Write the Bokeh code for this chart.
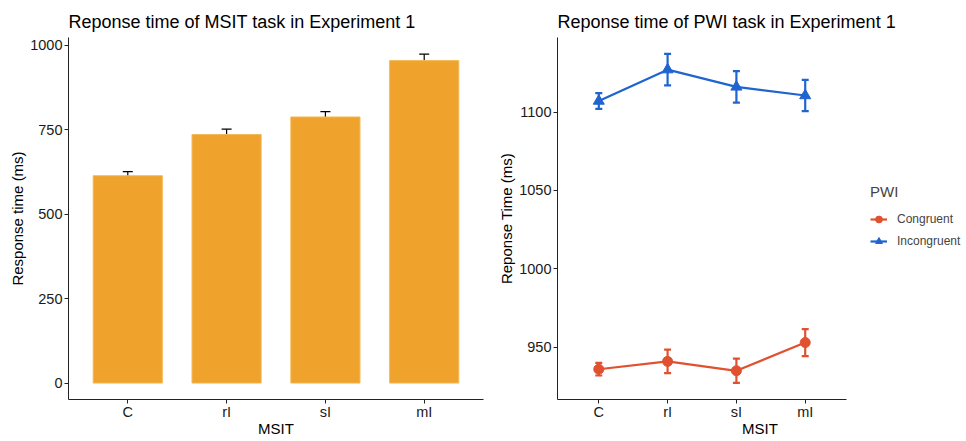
from bokeh.plotting import figure
from bokeh.layouts import row
from bokeh.models import (ColumnDataSource, Whisker, TeeHead, Legend, LegendItem,
                          FixedTicker, Range1d)
from bokeh.embed import file_html
from bokeh.resources import INLINE

# ---------------- data ----------------
categories = ["C", "rI", "sI", "mI"]

msit_rt = [614, 736, 788, 955]
msit_se = [12, 16, 16, 19]

pwi_congruent = [936, 941, 935, 953]
pwi_congruent_se = [4, 7.5, 7.7, 8.6]
pwi_incongruent = [1107, 1127, 1116, 1110.5]
pwi_incongruent_se = [5, 10, 10, 10]

left_ticks = [0, 250, 500, 750, 1000]
right_ticks = [950, 1000, 1050, 1100]

FONT = "Liberation Sans"
ORANGE = "#EFA32D"
RED = "#E05130"
BLUE = "#1F64CF"
TICK_COL = "#1a1a1a"

xs = list(range(1, len(categories) + 1))
overrides = {x: c for x, c in zip(xs, categories)}


def style(p, ticks, ylabel):
    p.xgrid.visible = False
    p.ygrid.visible = False
    p.outline_line_color = None
    p.background_fill_color = "white"
    p.border_fill_color = "white"
    p.title.text_font = FONT
    p.title.text_font_size = "18px"
    p.title.text_font_style = "normal"
    p.title.text_color = "black"
    p.title.align = "left"
    p.title.standoff = 12
    for ax in (p.xaxis[0], p.yaxis[0]):
        ax.axis_line_color = "#222222"
        ax.axis_line_width = 1
        ax.major_tick_line_color = "#222222"
        ax.major_tick_out = 4
        ax.major_tick_in = 0
        ax.minor_tick_line_color = None
        ax.major_label_text_font = FONT
        ax.major_label_text_font_size = "14.5px"
        ax.major_label_text_color = TICK_COL
        ax.axis_label_text_font = FONT
        ax.axis_label_text_font_size = "15px"
        ax.axis_label_text_font_style = "normal"
        ax.axis_label_text_color = "black"
    p.xaxis.ticker = FixedTicker(ticks=xs)
    p.xaxis.major_label_overrides = overrides
    p.xaxis.major_label_standoff = 0
    p.xaxis.axis_label = "MSIT"
    p.xaxis.axis_label_standoff = -3
    p.yaxis.ticker = FixedTicker(ticks=ticks)
    p.yaxis.major_label_standoff = 2
    p.yaxis.axis_label = ylabel
    p.yaxis.axis_label_standoff = 1


FRAME_H = 362
CAT_LO, CAT_HI = 0.4, 4.6

# ---------------- left: bar chart ----------------
p1 = figure(frame_width=415, frame_height=FRAME_H, output_backend="svg",
            toolbar_location=None,
            title="Reponse time of MSIT task in Experiment 1",
            x_range=Range1d(CAT_LO, CAT_HI), y_range=Range1d(-48.7, 1023.4),
            min_border_left=68, min_border_right=7, min_border_top=37,
            min_border_bottom=10)
style(p1, left_ticks, "Response time (ms)")

src1 = ColumnDataSource(dict(
    x=xs, top=msit_rt,
    upper=[m + s for m, s in zip(msit_rt, msit_se)],
    lower=[m - s for m, s in zip(msit_rt, msit_se)],
))
p1.vbar(x="x", top="top", bottom=0, width=0.7, source=src1,
        fill_color=ORANGE, line_color="#F3B95A", line_width=1)
p1.add_layout(Whisker(base="x", upper="upper", lower="lower", source=src1,
                      line_color="black", line_width=1.2,
                      upper_head=TeeHead(size=10, line_color="black", line_width=1.2),
                      lower_head=TeeHead(size=10, line_color="black", line_width=1.2)))

# ---------------- right: line chart (frame extends under the legend) ----------------
AXIS_W = 289          # pixel length of the visible x axis
FRAME_W2 = 405
x_end = CAT_LO + (CAT_HI - CAT_LO) * FRAME_W2 / AXIS_W

p2 = figure(frame_width=FRAME_W2, frame_height=FRAME_H, output_backend="svg",
            toolbar_location=None,
            title="Reponse time of PWI task in Experiment 1",
            x_range=Range1d(CAT_LO, x_end), y_range=Range1d(916.7, 1147.5),
            min_border_left=67, min_border_right=2, min_border_top=37,
            min_border_bottom=10)
style(p2, right_ticks, "Reponse Time (ms)")
p2.xaxis.bounds = (CAT_LO, CAT_HI)

items = []
series = [
    ("Congruent", pwi_congruent, pwi_congruent_se, RED, "circle", 10),
    ("Incongruent", pwi_incongruent, pwi_incongruent_se, BLUE, "triangle", 11),
]
for name, vals, se, col, marker, size in series:
    src = ColumnDataSource(dict(
        x=xs, y=vals,
        upper=[m + s for m, s in zip(vals, se)],
        lower=[m - s for m, s in zip(vals, se)],
    ))
    lr = p2.line("x", "y", source=src, line_color=col, line_width=2.2)
    p2.add_layout(Whisker(base="x", upper="upper", lower="lower", source=src,
                          line_color=col, line_width=2.2,
                          upper_head=TeeHead(size=7, line_color=col, line_width=2.2),
                          lower_head=TeeHead(size=7, line_color=col, line_width=2.2)))
    sr = p2.scatter("x", "y", source=src, marker=marker, size=size,
                    fill_color=col, line_color=col)
    items.append(LegendItem(label=name, renderers=[lr, sr]))

legend = Legend(items=items, location=(313, 149), title="PWI",
                title_text_font=FONT, title_text_font_size="15px",
                title_text_font_style="normal", title_standoff=10,
                label_text_font=FONT, label_text_font_size="12px",
                label_standoff=10, glyph_width=17, glyph_height=18,
                label_height=18, spacing=4, padding=0, margin=0,
                border_line_color=None, background_fill_alpha=0)
p2.add_layout(legend, "center")

layout = row(p1, p2)
open("out.html", "w").write(file_html(layout, INLINE))
